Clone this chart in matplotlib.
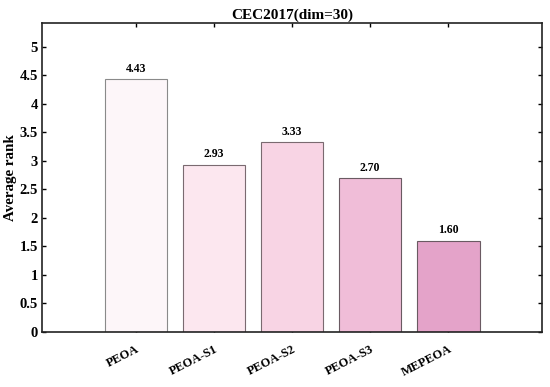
import matplotlib
matplotlib.use("Agg")
import matplotlib.pyplot as plt

categories = ["PEOA", "PEOA-S1", "PEOA-S2", "PEOA-S3", "MEPEOA"]
values = [4.43, 2.93, 3.33, 2.70, 1.60]
labels = ["4.43", "2.93", "3.33", "2.70", "1.60"]
colors = ["#FDF6F9", "#FCE7EF", "#F8D4E4", "#F0BDD8", "#E4A3C9"]
edges = ["#8a8a8a", "#7a6a70", "#7a6a70", "#6a5a62", "#6a5a62"]

plt.rcParams['font.family'] = ['Liberation Serif', 'DejaVu Serif']
plt.rcParams['font.weight'] = 'bold'

fig = plt.figure(figsize=(5.5, 3.87), dpi=100)
ax = fig.add_axes([42/550, 1-332/387, 500/550, 309/387])

x = list(range(1, len(categories) + 1))
ax.bar(x, values, width=0.8, color=colors, edgecolor=edges, linewidth=0.8, zorder=2)
for xi, v, t in zip(x, values, labels):
    ax.text(xi, v + 0.08, t, ha='center', va='bottom', fontsize=8.5, fontweight='bold')

ax.set_xlim(-0.2, 6.2)
ax.set_ylim(0, 5.42)
ax.set_xticks(x)
ax.set_xticklabels(categories, rotation=27, ha='right', va='top', rotation_mode='anchor',
                   fontsize=9, fontweight='bold')
ax.set_yticks([0, 0.5, 1, 1.5, 2, 2.5, 3, 3.5, 4, 4.5, 5])
ax.set_yticklabels(["0", "0.5", "1", "1.5", "2", "2.5", "3", "3.5", "4", "4.5", "5"], fontsize=10.5, fontweight='bold')
ax.tick_params(direction='in', top=True, right=True, length=3, width=1)
ax.tick_params(axis='x', pad=8)
ax.tick_params(axis='y', pad=3)
for s in ax.spines.values():
    s.set_linewidth(1.2)
    s.set_color('#222222')
ax.set_ylabel("Average rank", fontsize=10.8, fontweight='bold', labelpad=1.5)
ax.set_title("CEC2017(dim=30)", fontsize=11, fontweight='bold', pad=3)

fig.savefig("out.png", dpi=100)
